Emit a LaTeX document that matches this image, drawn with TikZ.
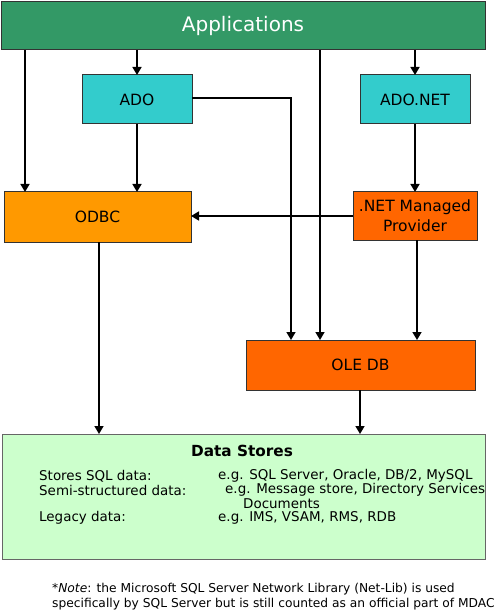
\documentclass[tikz,border=0pt]{standalone}
\usepackage{fontspec}
\setmainfont{DejaVu Sans}
\usetikzlibrary{arrows.meta}
\definecolor{appgreen}{HTML}{339966}
\definecolor{adocyan}{HTML}{33CCCC}
\definecolor{odbcorange}{HTML}{FF9900}
\definecolor{deeporange}{HTML}{FF6600}
\definecolor{dsgreen}{HTML}{CCFFCC}
\definecolor{edgegray}{HTML}{333333}
\tikzset{
  box/.style={draw=edgegray, line width=1pt, rectangle, anchor=north west, inner sep=0pt, outer sep=0pt, align=center, font=\fontsize{15.5}{20}\selectfont},
  arr/.style={line width=1.6pt, -{Triangle[length=8pt,width=9pt]}},
  dstext/.style={anchor=west, inner sep=0pt, font=\fontsize{13.45}{14}\selectfont},
  notetext/.style={anchor=west, inner sep=0pt, font=\fontsize{12.25}{15}\selectfont}
}
\begin{document}
\begin{tikzpicture}[x=1pt,y=-1pt]
\useasboundingbox (0,0) rectangle (495,612);
\node[box, fill=appgreen, minimum width=484pt, minimum height=48pt, text=white, font=\fontsize{20}{24}\selectfont] (apps) at (1,2) {Applications};
\node[box, fill=adocyan, minimum width=110pt, minimum height=49pt] (ado) at (82,75) {ADO};
\node[box, fill=adocyan, minimum width=110pt, minimum height=49pt] (adonet) at (360,75) {ADO.NET};
\node[box, fill=odbcorange, minimum width=187pt, minimum height=50pt] (odbc) at (4,192) {ODBC};
\node[box, fill=deeporange, minimum width=124pt, minimum height=48pt] (netmp) at (353,192) {.NET Managed\\Provider};
\node[box, fill=deeporange, minimum width=229pt, minimum height=50pt] (oledb) at (246,340) {OLE DB};
\node[box, draw=black!60, fill=dsgreen, minimum width=483pt, minimum height=125pt] (ds) at (2,434) {};

\coordinate (xa) at (25,0);
\coordinate (xb) at (137,0);
\coordinate (xc) at (291,0);
\coordinate (xd) at (320,0);
\coordinate (xe) at (415,0);
\coordinate (xf) at (417,0);
\coordinate (xg) at (99,0);
\coordinate (xh) at (360,0);
\coordinate (ya) at (0,98);

\draw[arr] (apps.south -| xa) -- (odbc.north -| xa);
\draw[arr] (apps.south -| xb) -- (ado.north -| xb);
\draw[arr] (ado.south -| xb) -- (odbc.north -| xb);
\draw[arr] (apps.south -| xd) -- (oledb.north -| xd);
\draw[arr] (ado.east |- ya) -- (xc |- ya) -- (oledb.north -| xc);
\draw[arr] (apps.south -| xe) -- (adonet.north -| xe);
\draw[arr] (adonet.south -| xe) -- (netmp.north -| xe);
\draw[arr] (netmp.west) -- (odbc.east |- netmp.west);
\draw[arr] (netmp.south -| xf) -- (oledb.north -| xf);
\draw[arr] (odbc.south -| xg) -- (ds.north -| xg);
\draw[arr] (oledb.south -| xh) -- (ds.north -| xh);

\node[font=\bfseries\fontsize{15.3}{18}\selectfont, inner sep=0pt] (dstitle) at (242,451) {Data Stores};
\node[dstext] (l1) at (39,476) {Stores SQL data:};
\node[dstext] (r1) at (218,476) {e.g. SQL Server, Oracle, DB/2, MySQL};
\node[dstext] (l2) at (39,490) {Semi-structured data:};
\node[dstext] (r2) at (225,490) {e.g. Message store, Directory Services};
\node[dstext] (r3) at (243,504) {Documents};
\node[dstext] (l4) at (39,518) {Legacy data:};
\node[dstext] (r4) at (218,518) {e.g. IMS, VSAM, RMS, RDB};

\node[notetext] (n1) at (52,589) {*\textit{Note}: the Microsoft SQL Server Network Library (Net-Lib) is used};
\node[notetext] (n2) at (52,604) {specifically by SQL Server but is still counted as an official part of MDAC};
\end{tikzpicture}
\end{document}
